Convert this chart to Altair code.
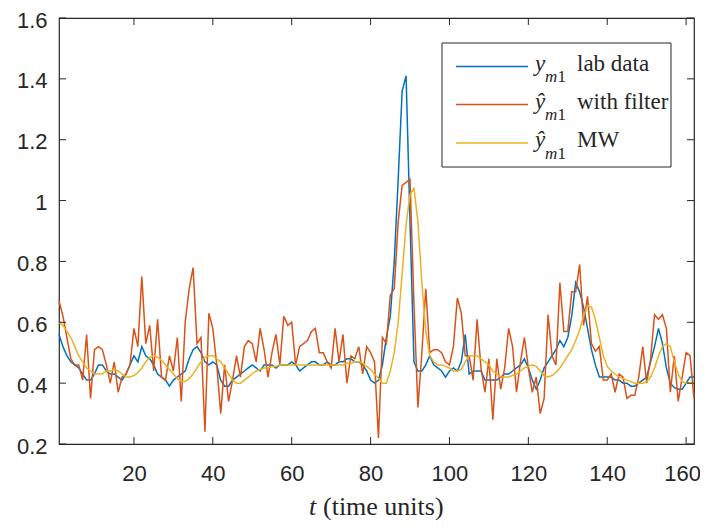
import altair as alt
import pandas as pd

# ---------------- data ----------------
t_values = list(range(1, 163))

lab_data = [
    0.56, 0.52, 0.49, 0.47, 0.46, 0.45, 0.43, 0.41, 0.41, 0.43,
    0.46, 0.46, 0.44, 0.43, 0.43, 0.42, 0.41, 0.43, 0.46, 0.49,
    0.47, 0.52, 0.49, 0.48, 0.46, 0.43, 0.42, 0.41, 0.39, 0.41,
    0.42, 0.43, 0.44, 0.48, 0.51, 0.52, 0.50, 0.47, 0.46, 0.47,
    0.46, 0.41, 0.39, 0.39, 0.41, 0.42, 0.43, 0.44, 0.45, 0.46,
    0.45, 0.44, 0.46, 0.46, 0.46, 0.45, 0.46, 0.46, 0.46, 0.47,
    0.46, 0.44, 0.45, 0.46, 0.47, 0.47, 0.46, 0.46, 0.47, 0.46,
    0.46, 0.47, 0.47, 0.48, 0.48, 0.47, 0.47, 0.46, 0.44, 0.41,
    0.40, 0.41, 0.46, 0.55, 0.62, 0.80, 1.07, 1.36, 1.41, 0.93,
    0.47, 0.44, 0.44, 0.46, 0.49, 0.46, 0.45, 0.44, 0.42, 0.44,
    0.45, 0.44, 0.47, 0.56, 0.43, 0.44, 0.44, 0.44, 0.41, 0.41,
    0.41, 0.41, 0.42, 0.43, 0.43, 0.44, 0.45, 0.46, 0.48, 0.45,
    0.41, 0.38, 0.41, 0.45, 0.47, 0.49, 0.51, 0.54, 0.52, 0.55,
    0.62, 0.73, 0.70, 0.65, 0.58, 0.51, 0.46, 0.42, 0.42, 0.42,
    0.42, 0.41, 0.41, 0.40, 0.40, 0.39, 0.39, 0.40, 0.41, 0.42,
    0.47, 0.52, 0.58, 0.53, 0.45, 0.40, 0.385, 0.38, 0.38, 0.40,
    0.42, 0.42,
]

with_filter = [
    0.67, 0.62, 0.55, 0.48, 0.46, 0.46, 0.41, 0.56, 0.35, 0.51,
    0.52, 0.51, 0.46, 0.40, 0.47, 0.37, 0.42, 0.43, 0.46, 0.58,
    0.52, 0.75, 0.53, 0.59, 0.44, 0.61, 0.42, 0.41, 0.49, 0.44,
    0.55, 0.34, 0.60, 0.71, 0.78, 0.53, 0.55, 0.24, 0.63, 0.58,
    0.46, 0.30, 0.46, 0.34, 0.41, 0.49, 0.42, 0.52, 0.54, 0.53,
    0.47, 0.58, 0.51, 0.42, 0.50, 0.56, 0.46, 0.62, 0.59, 0.60,
    0.46, 0.52, 0.53, 0.54, 0.57, 0.58, 0.50, 0.50, 0.47, 0.45,
    0.58, 0.47, 0.56, 0.40, 0.49, 0.48, 0.52, 0.43, 0.52, 0.50,
    0.47, 0.22, 0.55, 0.53, 0.69, 0.71, 0.93, 1.05, 1.06, 1.07,
    0.66, 0.32, 0.50, 0.71, 0.50, 0.51, 0.51, 0.50, 0.47, 0.46,
    0.52, 0.68, 0.63, 0.49, 0.49, 0.41, 0.61, 0.45, 0.37, 0.48,
    0.28, 0.48, 0.38, 0.45, 0.58, 0.52, 0.37, 0.47, 0.55, 0.45,
    0.37, 0.42, 0.30, 0.35, 0.625, 0.49, 0.46, 0.73, 0.57, 0.57,
    0.70, 0.70, 0.79, 0.59, 0.685, 0.53, 0.505, 0.52, 0.41, 0.41,
    0.43, 0.37, 0.43, 0.42, 0.35, 0.36, 0.36, 0.42, 0.52, 0.40,
    0.48, 0.625, 0.61, 0.625, 0.58, 0.37, 0.49, 0.34, 0.42, 0.50,
    0.49, 0.35,
]

mw = [
    0.60, 0.59, 0.57, 0.55, 0.52, 0.49, 0.47, 0.45, 0.44, 0.43,
    0.43, 0.43, 0.44, 0.44, 0.445, 0.44, 0.43, 0.42, 0.42, 0.425,
    0.435, 0.45, 0.47, 0.485, 0.49, 0.485, 0.475, 0.46, 0.445, 0.43,
    0.415, 0.405, 0.405, 0.415, 0.43, 0.45, 0.47, 0.485, 0.49, 0.49,
    0.48, 0.47, 0.45, 0.43, 0.41, 0.40, 0.40, 0.41, 0.42, 0.43,
    0.44, 0.445, 0.45, 0.45, 0.455, 0.455, 0.46, 0.46, 0.46, 0.46,
    0.46, 0.46, 0.46, 0.46, 0.46, 0.46, 0.46, 0.46, 0.46, 0.46,
    0.46, 0.46, 0.46, 0.465, 0.465, 0.47, 0.47, 0.465, 0.455, 0.445,
    0.43, 0.415, 0.40, 0.40, 0.44, 0.50, 0.60, 0.76, 0.92, 1.02,
    1.04, 0.93, 0.73, 0.57, 0.49, 0.47, 0.46, 0.46, 0.455, 0.45,
    0.44, 0.44, 0.445, 0.47, 0.49, 0.49, 0.49, 0.48, 0.47, 0.46,
    0.44, 0.43, 0.42, 0.42, 0.42, 0.425, 0.43, 0.44, 0.45, 0.455,
    0.46, 0.455, 0.44, 0.425, 0.42, 0.425, 0.435, 0.45, 0.47, 0.49,
    0.51, 0.54, 0.575, 0.62, 0.655, 0.65, 0.61, 0.55, 0.49, 0.455,
    0.44, 0.43, 0.42, 0.415, 0.41, 0.405, 0.40, 0.40, 0.40, 0.405,
    0.42, 0.45, 0.49, 0.52, 0.53, 0.52, 0.47, 0.43, 0.405, 0.40,
    0.40, 0.40,
]

series_symbols = ["y", "\u0177", "\u0177"]          # y, y-hat, y-hat
series_labels = ["lab data", "with filter", "MW"]
series_colors = ["#0072BD", "#D95319", "#EDB120"]

x_ticks = [20, 40, 60, 80, 100, 120, 140, 160]
y_ticks = [0.2, 0.4, 0.6, 0.8, 1.0, 1.2, 1.4, 1.6]
x_title_var = "t"
x_title_rest = "(time units)"

# ---------------- chart ----------------
W, H = 635, 426
AX = "#262626"
SERIF = "Liberation Serif"
SANS = "Liberation Sans"

xscale = alt.Scale(domain=[1, 162], nice=False, zero=False)
yscale = alt.Scale(domain=[0.2, 1.6], nice=False, zero=False)

one = pd.DataFrame({"k": [0]})

x_axis = alt.Axis(values=x_ticks, title=None, grid=False, domain=False, ticks=False,
                  tickSize=0, labelFont=SANS, labelFontSize=22, labelColor=AX,
                  labelPadding=19,
                  labelOffset={"expr": "datum.value >= 160 ? -4 : 0"})
y_axis = alt.Axis(values=y_ticks, title=None, grid=False, domain=False, ticks=False,
                  tickSize=0, labelFont=SANS, labelFontSize=22, labelColor=AX,
                  labelPadding=12, labelOffset=2, format="~g")

layers = []
for vals, col in zip([lab_data, with_filter, mw], series_colors):
    d = pd.DataFrame({"t": t_values, "value": vals})
    layers.append(
        alt.Chart(d).mark_line(strokeWidth=1.5, color=col).encode(
            x=alt.X("t:Q", scale=xscale, axis=x_axis),
            y=alt.Y("value:Q", scale=yscale, axis=y_axis),
        )
    )

# inward ticks on all four sides (MATLAB box style)
xt = pd.DataFrame({"tick": x_ticks})
yt = pd.DataFrame({"tick": y_ticks})
TL = 7
for y0, y1 in [(H - TL, H), (0, TL)]:
    layers.append(
        alt.Chart(xt).mark_rule(color=AX, strokeWidth=1).encode(
            x=alt.X("tick:Q", scale=xscale, title=None),
            y=alt.value(y0), y2=alt.value(y1),
        )
    )
for x0, x1 in [(0, TL), (W - TL, W)]:
    layers.append(
        alt.Chart(yt).mark_rule(color=AX, strokeWidth=1).encode(
            y=alt.Y("tick:Q", scale=yscale, title=None),
            x=alt.value(x0), x2=alt.value(x1),
        )
    )

# legend box
LX0, LX1, LY0, LY1 = 383, 612, 25, 149
layers.append(
    alt.Chart(one).mark_rect(fill="white", stroke=AX, strokeWidth=1).encode(
        x=alt.value(LX0), x2=alt.value(LX1), y=alt.value(LY0), y2=alt.value(LY1)
    )
)
row_base = [52.5, 90.5, 129.0]
for sym, lab, col, base in zip(series_symbols, series_labels, series_colors, row_base):
    layers.append(
        alt.Chart(one).mark_rule(color=col, strokeWidth=1.5).encode(
            x=alt.value(397), x2=alt.value(469), y=alt.value(base - 4)
        )
    )
    layers.append(
        alt.Chart(one).mark_text(text=sym, font=SERIF, fontSize=23, fontStyle="italic",
                                 align="left", baseline="alphabetic", color=AX).encode(
            x=alt.value(476), y=alt.value(base)
        )
    )
    layers.append(
        alt.Chart(one).mark_text(text="m", font=SERIF, fontSize=17, fontStyle="italic",
                                 align="left", baseline="alphabetic", color=AX).encode(
            x=alt.value(486), y=alt.value(base + 11.5)
        )
    )
    layers.append(
        alt.Chart(one).mark_text(text="1", font=SERIF, fontSize=17,
                                 align="left", baseline="alphabetic", color=AX).encode(
            x=alt.value(498.5), y=alt.value(base + 11.5)
        )
    )
    layers.append(
        alt.Chart(one).mark_text(text=lab, font=SERIF, fontSize=23,
                                 align="left", baseline="alphabetic", color=AX).encode(
            x=alt.value(518), y=alt.value(base)
        )
    )

# x-axis title: italic variable + regular rest
layers.append(
    alt.Chart(one).mark_text(text=x_title_var, font=SERIF, fontSize=26, fontStyle="italic",
                             align="left", baseline="alphabetic", color=AX).encode(
        x=alt.value(250), y=alt.value(497)
    )
)
layers.append(
    alt.Chart(one).mark_text(text=x_title_rest, font=SERIF, fontSize=26,
                             align="left", baseline="alphabetic", color=AX).encode(
        x=alt.value(264), y=alt.value(497)
    )
)

chart = alt.layer(*layers).properties(
    width=W, height=H,
    autosize=alt.AutoSizeParams(type="none"),
    padding={"left": 51, "top": 10, "right": 6, "bottom": 76},
    background="white",
).configure_view(stroke=AX, strokeWidth=1.2)

chart.save("out.html", embed_options={"renderer": "svg", "actions": False})
